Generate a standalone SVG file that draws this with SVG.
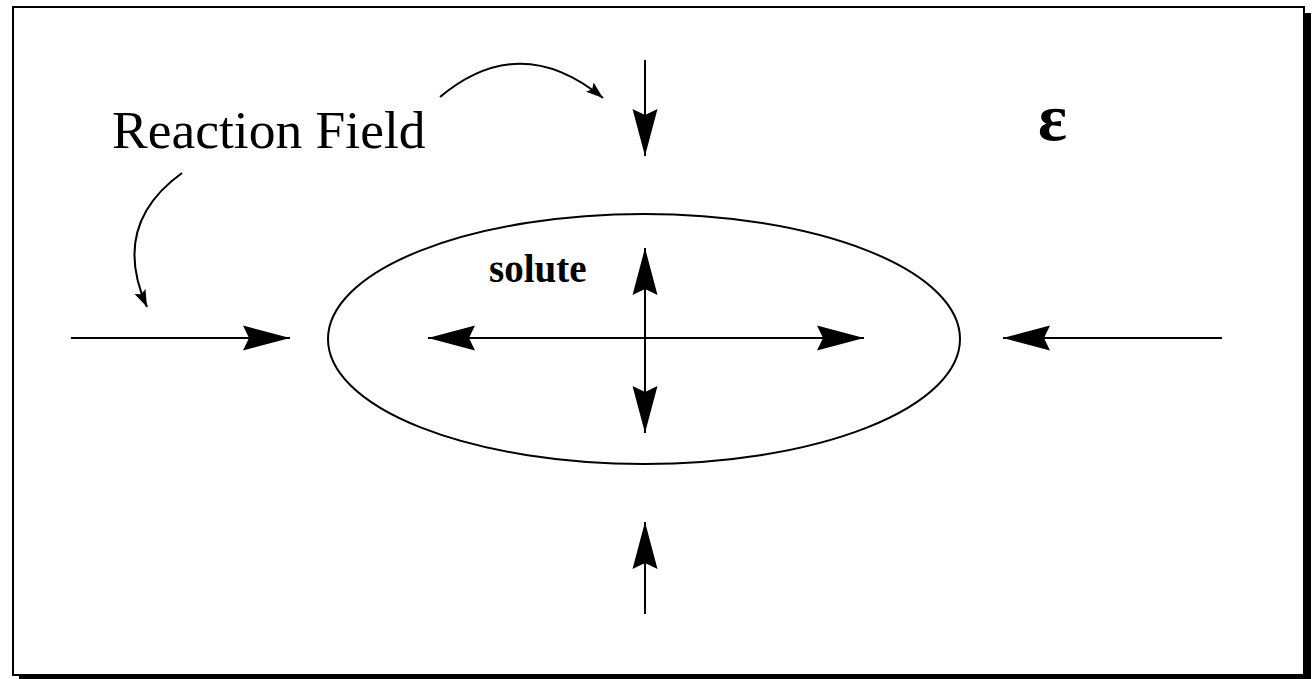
<svg xmlns="http://www.w3.org/2000/svg" width="1315" height="679" viewBox="0 0 1315 679">
<style>
.ln{stroke:#000;stroke-width:2;fill:none}
.big{marker-end:url(#ah)}
.sm{marker-end:url(#as)}
.t{font-family:"Liberation Serif","Times New Roman",serif;fill:#000}
</style>
<defs>
<marker id="ah" markerUnits="userSpaceOnUse" viewBox="-48 -14 50 28" refX="0" refY="0" markerWidth="50" markerHeight="28" orient="auto" overflow="visible">
<path d="M0,0 L-47,-12.5 L-41,0 L-47,12.5 Z" fill="#000"/>
</marker>
<marker id="as" markerUnits="userSpaceOnUse" viewBox="-20 -8 22 16" refX="0" refY="0" markerWidth="22" markerHeight="16" orient="auto" overflow="visible">
<path d="M0,0 L-17,-6 L-14,0 L-17,6 Z" fill="#000"/>
</marker>
</defs>
<rect width="1315" height="679" fill="#fff"/>
<g id="frame">
<rect x="19" y="13" width="1292" height="668" fill="#000"/>
<rect x="13" y="7" width="1291" height="668" fill="#fff" stroke="#000" stroke-width="2"/>
</g>
<g id="solute">
<ellipse cx="644" cy="339" rx="316" ry="125" class="ln"/>
<text x="489" y="282" class="t" font-size="39" font-weight="bold">solute</text>
</g>
<g id="reaction-field">
<text x="112" y="148" class="t" font-size="53.5">Reaction Field</text>
</g>
<g id="epsilon">
<text x="1038" y="140" class="t" font-size="68" font-weight="bold">ε</text>
</g>
<g id="connectors">
<line x1="645" y1="338" x2="864" y2="338" class="ln big"/>
<line x1="645" y1="338" x2="428" y2="338" class="ln big"/>
<line x1="645" y1="338" x2="645" y2="248" class="ln big"/>
<line x1="645" y1="338" x2="645" y2="433" class="ln big"/>
<line x1="71" y1="338" x2="290" y2="338" class="ln big"/>
<line x1="1222" y1="338" x2="1003" y2="338" class="ln big"/>
<line x1="645" y1="60" x2="645" y2="156" class="ln big"/>
<line x1="645" y1="614" x2="645" y2="522" class="ln big"/>
<path d="M440,97 Q520,30 603,98" class="ln sm"/>
<path d="M182,173 Q110,225 147,307" class="ln sm"/>
</g>
</svg>
